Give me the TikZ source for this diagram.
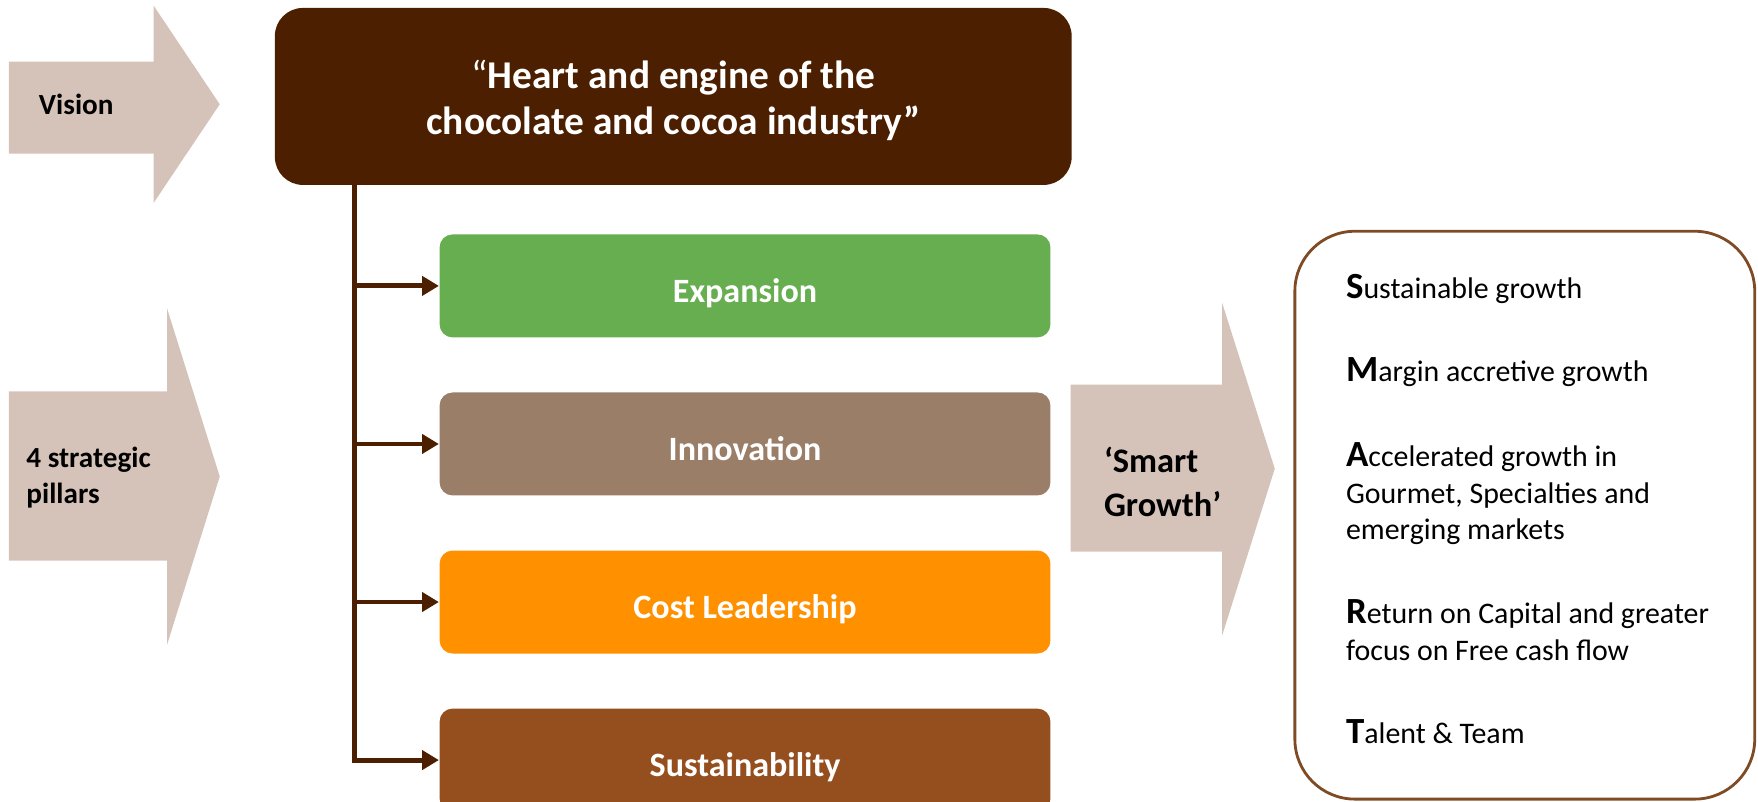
\documentclass[tikz,border=0pt]{standalone}
\usepackage{fontspec}
\setmainfont{Carlito}
\usetikzlibrary{arrows.meta}

\definecolor{choco}{RGB}{75,31,0}
\definecolor{sand}{RGB}{213,195,186}
\definecolor{leaf}{RGB}{102,174,80}
\definecolor{taupe}{RGB}{154,126,104}
\definecolor{tangerine}{RGB}{255,145,0}
\definecolor{rust}{RGB}{149,79,30}
\definecolor{frame}{RGB}{127,75,36}

\newcommand{\smartletter}[1]{{\fontsize{10.5}{10}\selectfont\bfseries #1}}

\tikzstyle{vision} = [rectangle, rounded corners=0.28cm, fill=choco, text=white, minimum width=7.97cm, minimum height=1.77cm, align=center, font=\bfseries\fontsize{11.2}{13.1}\selectfont]
\tikzstyle{pillar} = [rectangle, rounded corners=0.13cm, minimum width=6.11cm, minimum height=1.03cm, text height=1.03em, text depth=0.1em, text=white, font=\bfseries\fontsize{9.7}{11}\selectfont]
\tikzstyle{arrowtext} = [align=left, font=\bfseries\fontsize{8.3}{10.3}\selectfont]
\tikzstyle{smartbox} = [rectangle, rounded corners=0.6cm, draw=frame, line width=0.8pt, minimum width=4.6cm, minimum height=5.68cm]
\tikzstyle{item} = [anchor=west, align=left, inner sep=0pt, font=\fontsize{8.5}{10.4}\selectfont]
\tikzstyle{branch} = [line width=1.4pt, draw=choco, -{Triangle[length=4.8pt,width=5.4pt]}]

\begin{document}
\begin{tikzpicture}[x=0.011212cm, y=-0.011212cm, node distance=1.581cm]
		\useasboundingbox (0,0) rectangle (1568,715);

		% block arrows
		\fill [sand] (8,55) -- (137,55) -- (137,5) -- (196,93) -- (137,181) -- (137,137) -- (8,137) -- cycle;
		\fill [sand] (8,349) -- (149,349) -- (149,275) -- (196,425) -- (149,575) -- (149,500) -- (8,500) -- cycle;
		\fill [sand] (955,343) -- (1090,343) -- (1090,270) -- (1137,418) -- (1090,567) -- (1090,492) -- (955,492) -- cycle;
		\node (vis) [arrowtext] at (68,93) {Vision};
		\node (pil) [arrowtext] at (79,426) {4 strategic\\pillars};
		\node (smart) [arrowtext, font=\bfseries\fontsize{9.8}{12.4}\selectfont] at (1037,430) {‘Smart\\Growth’};

		% vision and pillars
		\node (heart) [vision] at (600.5,86) {\rule{0pt}{10.3pt}{\mdseries “}Heart and engine of the\\chocolate and cocoa industry”};
		\node (exp) [pillar, fill=leaf] at (664.5,255) {Expansion};
		\node (inn) [pillar, fill=taupe, below of=exp] {Innovation};
		\node (cost) [pillar, fill=tangerine, below of=inn] {Cost Leadership};
		\node (sus) [pillar, fill=rust, below of=cost] {Sustainability};

		\coordinate (trunk) at (316,165);
		\draw [branch] (trunk) |- (exp.west);
		\draw [branch] (trunk) |- (inn.west);
		\draw [branch] (trunk) |- (cost.west);
		\draw [branch] (trunk) |- (sus.west);

		% smart growth
		\node (box) [smartbox] at (1360,459.5) {};
		\node (s) [item] at (1200,258) {\smartletter{S}ustainable growth};
		\node (m) [item] at (1200,332) {\smartletter{M}argin accretive growth};
		\node (a) [item] at (1200,440.5) {\smartletter{A}ccelerated growth in\\Gourmet, Specialties and\\emerging markets};
		\node (r) [item] at (1200,562) {\smartletter{R}eturn on Capital and greater\\focus on Free cash flow};
		\node (t) [item] at (1200,653) {\smartletter{T}alent \& Team};
	\end{tikzpicture}
\end{document}
